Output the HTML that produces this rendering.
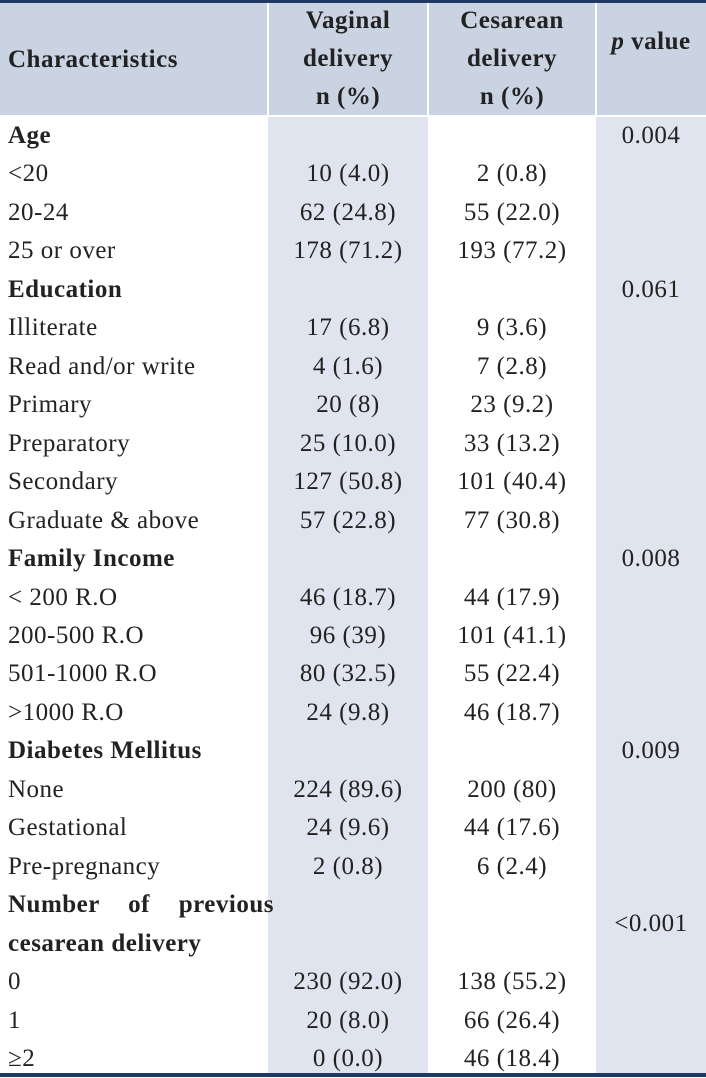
<!DOCTYPE html>
<html><head><meta charset="utf-8"><style>
body{margin:0;width:706px;height:1078px;position:relative;background:#fff;font-family:"Liberation Serif",serif;color:#222;overflow:hidden}
.a{position:absolute}
.hd{position:absolute;top:3px;height:112px;background:#c9d3e2}
.col{position:absolute;top:117px;height:956px;background:#dfe4ee}
.t{position:absolute;font-size:25px;letter-spacing:0.5px;line-height:38px;white-space:nowrap}
.c{text-align:center}
.b{font-weight:bold}
</style></head><body>
<div class="a" style="left:0;top:0;width:706px;height:3px;background:#1f3864"></div>
<div class="hd" style="left:0;width:267px"></div>
<div class="hd" style="left:269px;width:158px"></div>
<div class="hd" style="left:429px;width:166px"></div>
<div class="hd" style="left:597px;width:109px"></div>
<div class="col" style="left:268px;width:160px"></div>
<div class="col" style="left:596px;width:110px"></div>
<div class="a" style="left:0;top:1073px;width:706px;height:4px;background:#1f3864"></div>

<div class="t b" style="left:8px;top:41px">Characteristics</div>
<div class="t b c" style="left:268px;width:160px;top:2px">Vaginal<br>delivery<br>n (%)</div>
<div class="t b c" style="left:428px;width:168px;top:2px">Cesarean<br>delivery<br>n (%)</div>
<div class="t b c" style="left:596px;width:110px;top:23px"><i>p</i> value</div>
<div id="body"></div>
<script>
const labels=["Age","<20","20-24","25 or over","Education","Illiterate","Read and/or write","Primary","Preparatory","Secondary","Graduate & above","Family Income","< 200 R.O","200-500 R.O","501-1000 R.O",">1000 R.O","Diabetes Mellitus","None","Gestational","Pre-pregnancy","Number of previous","cesarean delivery","0","1","≥2"];
const bold=[0,4,11,16,20,21];
const vaginal=["","10 (4.0)","62 (24.8)","178 (71.2)","","17 (6.8)","4 (1.6)","20 (8)","25 (10.0)","127 (50.8)","57 (22.8)","","46 (18.7)","96 (39)","80 (32.5)","24 (9.8)","","224 (89.6)","24 (9.6)","2 (0.8)","","","230 (92.0)","20 (8.0)","0 (0.0)"];
const cesarean=["","2 (0.8)","55 (22.0)","193 (77.2)","","9 (3.6)","7 (2.8)","23 (9.2)","33 (13.2)","101 (40.4)","77 (30.8)","","44 (17.9)","101 (41.1)","55 (22.4)","46 (18.7)","","200 (80)","44 (17.6)","6 (2.4)","","","138 (55.2)","66 (26.4)","46 (18.4)"];
const pvals=[[0,"0.004"],[4,"0.061"],[11,"0.008"],[16,"0.009"],[20.5,"<0.001"]];
const body=document.getElementById('body');
const y=i=>136+i*38.46-19;
function add(txt,cls,left,w,top,name){const d=document.createElement('div');d.className='t '+cls;d.textContent=txt;d.style.left=left+'px';if(w)d.style.width=w+'px';d.style.top=top+'px';


body.appendChild(d);}
labels.forEach((l,i)=>{
 if(i===20){add(l,'b',8,0,y(i),'row-label');body.lastChild.style.wordSpacing='22px';}
 else add(l,bold.includes(i)?'b':'',8,0,y(i),'row-label');
 if(vaginal[i])add(vaginal[i],'c',268,160,y(i),'vaginal-value');
 if(cesarean[i])add(cesarean[i],'c',428,168,y(i),'cesarean-value');
});
pvals.forEach(p=>add(p[1],'c',596,110,y(p[0]),'p-value'));
</script>
</body></html>
